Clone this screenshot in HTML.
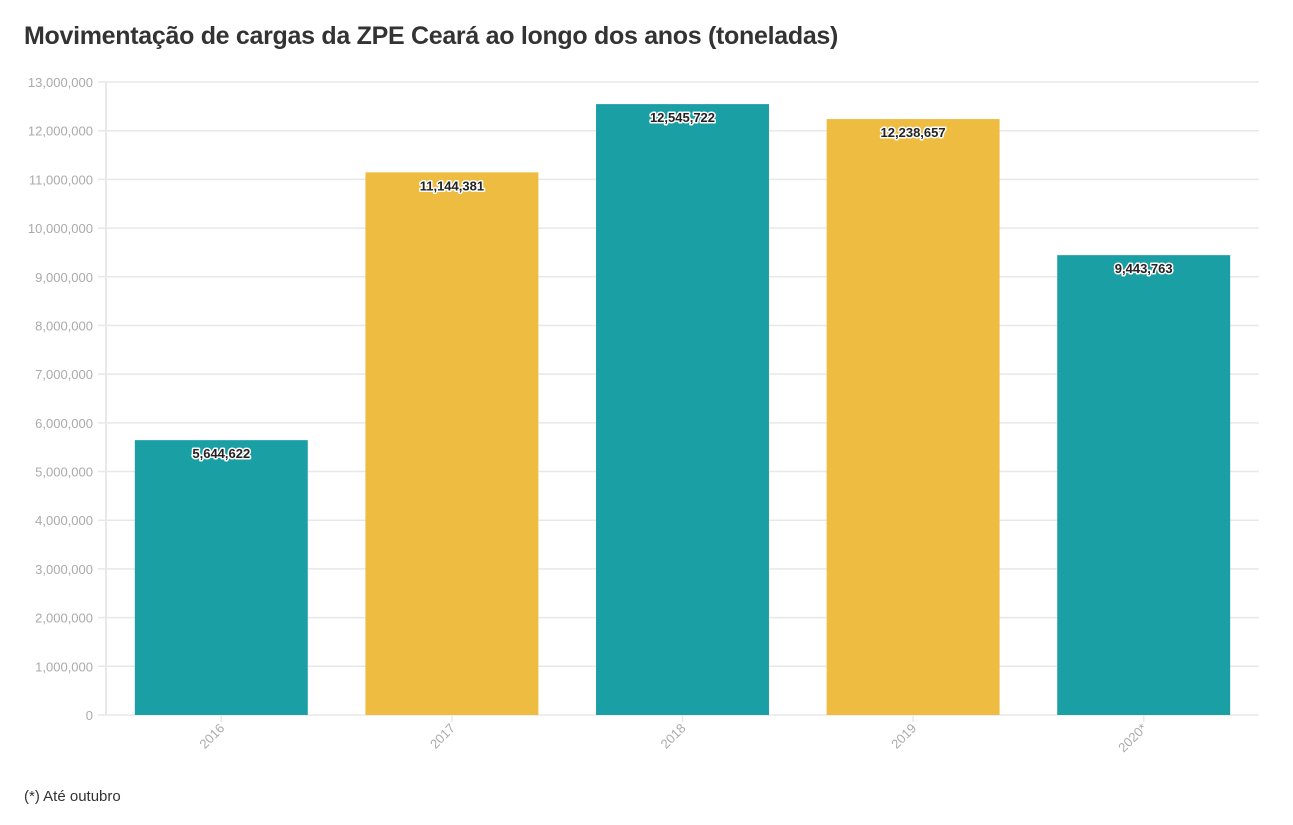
<!DOCTYPE html>
<html><head><meta charset="utf-8"><style>
body{margin:0;background:#fff;font-family:"Liberation Sans",sans-serif;}
#wrap{position:relative;width:1293px;height:825px;overflow:hidden}
h1{position:absolute;left:24px;top:22px;margin:0;font-size:25px;font-weight:bold;color:#333;letter-spacing:-0.3px}
.note{position:absolute;left:24px;top:788px;font-size:15px;color:#333}
</style></head><body>
<div id="wrap">
<h1>Movimentação de cargas da ZPE Ceará ao longo dos anos (toneladas)</h1>
<svg id="chart" width="1293" height="825" style="position:absolute;left:0;top:0"></svg>
<div class="note">(*) Até outubro</div>
</div>
<script>
const categories = ["2016","2017","2018","2019","2020*"];
const values = [5644622, 11144381, 12545722, 12238657, 9443763];
const valueLabels = ["5,644,622","11,144,381","12,545,722","12,238,657","9,443,763"];
const yTicks = [0,1000000,2000000,3000000,4000000,5000000,6000000,7000000,8000000,9000000,10000000,11000000,12000000,13000000];
const colors = ["#1a9fa5","#eebc40"];
const NS="http://www.w3.org/2000/svg";
const svg=document.getElementById('chart');
const L=106,R=1259,T=82,B=715,yMax=13000000;
const y=v=>B-(v/yMax)*(B-T);
const band=(R-L)/categories.length;
const x=i=>L+band*i;
const bw=band*0.75;
function mk(t,a){const e=document.createElementNS(NS,t);for(const k in a)e.setAttribute(k,a[k]);svg.appendChild(e);return e;}
yTicks.forEach(v=>{
  const g=mk('line',{x1:98,x2:R,y1:y(v),y2:y(v),stroke:'#e8e8e8','stroke-width':1.5});
  
  
  const t=mk('text',{x:93,y:y(v)+5,'text-anchor':'end','font-size':13,fill:'#aaa'});
  t.textContent=v.toLocaleString('en-US');
  
  
});
const ax=mk('line',{x1:L,x2:L,y1:T,y2:B,stroke:'#e8e8e8','stroke-width':2});


categories.forEach((c,i)=>{
  const cx=x(i)+band/2;
  const r=mk('rect',{x:cx-bw/2,y:y(values[i]),width:bw,height:B-y(values[i]),fill:colors[i%2]});
  
  
  const tk=mk('line',{x1:cx,x2:cx,y1:B,y2:B+7,stroke:'#e8e8e8','stroke-width':1.5});
  
  
  const xl=mk('text',{x:cx+4,y:B+14,'text-anchor':'end','font-size':13,fill:'#aaa',transform:`rotate(-45 ${cx+4} ${B+14})`});
  xl.textContent=c;
  
  
  const vl=mk('text',{x:cx,y:y(values[i])+18,'text-anchor':'middle','font-size':13,'font-weight':'bold',fill:'#222',stroke:'#fff','stroke-width':3,'paint-order':'stroke','stroke-linejoin':'round'});
  vl.textContent=valueLabels[i];
  
  
});
</script>
</body></html>
